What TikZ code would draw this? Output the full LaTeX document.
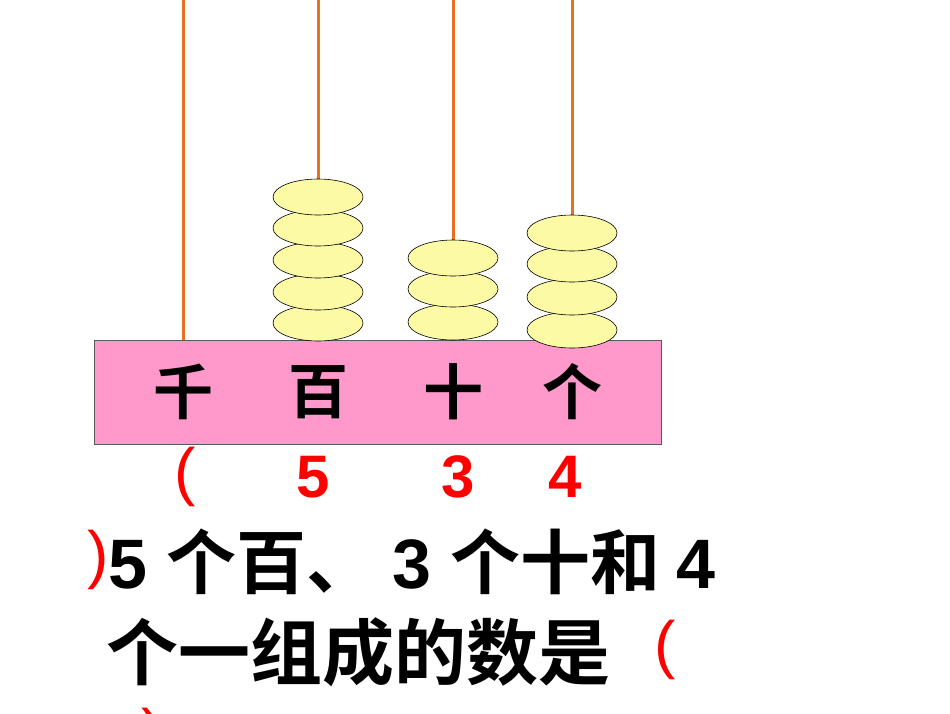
\documentclass[tikz,border=0pt]{standalone}
\usepackage{fontspec}
\newfontfamily\cjk{Noto Sans CJK SC}[BoldFont={* Bold}]
\newfontfamily\lat{Liberation Sans}
\usetikzlibrary{shapes.geometric}
\begin{document}
\begin{tikzpicture}[x=1pt,y=-1pt,
  rod/.style={draw={rgb,255:red,232;green,112;blue,32},line width=3pt},
  bead/.style={ellipse,draw=black,line width=0.6pt,fill={rgb,255:red,252;green,250;blue,165},minimum width=90pt,minimum height=36pt,inner sep=0pt},
  lab/.style={font=\cjk\bfseries\fontsize{60}{60}\selectfont},
  rednum/.style={text={rgb,255:red,255;green,0;blue,0},font=\lat\bfseries\fontsize{60}{60}\selectfont},
  redpar/.style={text={rgb,255:red,255;green,0;blue,0},font=\lat\fontsize{64}{64}\selectfont},
  txt/.style={font=\cjk\bfseries\fontsize{70}{70}\selectfont,anchor=west,inner sep=0pt}]
\useasboundingbox (0,0) rectangle (950,713);
\clip (0,0) rectangle (950,713);
\coordinate (t1) at (183,0); \coordinate (b1) at (183,340);
\coordinate (t2) at (318,0); \coordinate (b2) at (318,180);
\coordinate (t3) at (453,0); \coordinate (b3) at (453,240);
\coordinate (t4) at (572,0); \coordinate (b4) at (572,215);
\draw[rod] (t1) -- (b1);
\draw[rod] (t2) -- (b2);
\draw[rod] (t3) -- (b3);
\draw[rod] (t4) -- (b4);
\node[draw={rgb,255:red,90;green,90;blue,90},line width=0.8pt,fill={rgb,255:red,255;green,153;blue,204},minimum width=567pt,minimum height=104pt,inner sep=0pt] (frame) at (377.5,392) {};
\foreach \y [count=\i] in {323,292,260,228,197} \node[bead] (h\i) at (318,\y) {};
\foreach \y [count=\i] in {322,289,258} \node[bead] (s\i) at (453,\y) {};
\foreach \y [count=\i] in {330,297,264,233} \node[bead] (o\i) at (572,\y) {};
\node[lab] (q) at (183,392) {千};
\node[lab] (bai) at (318,392) {百};
\node[lab] (shi) at (453,392) {十};
\node[lab] (ge) at (572,392) {个};
\node[redpar] (p1) at (185,477) {(};
\node[rednum] (n5) at (313,477) {5};
\node[rednum] (n3) at (458,477) {3};
\node[rednum] (n4) at (565,477) {4};
\node[redpar] (p2) at (98,560) {)};
\node[txt] (l1) at (108,562) {\lat\bfseries 5 \cjk 个百、 \lat\bfseries 3 \cjk 个十和 \lat\bfseries 4};
\node[txt,font=\cjk\bfseries\fontsize{72}{72}\selectfont] (l2) at (106,652) {个一组成的数是};
\node[redpar] (p3) at (665,650) {(};
\node[redpar] (p4) at (152,738) {)};
\end{tikzpicture}
\end{document}
